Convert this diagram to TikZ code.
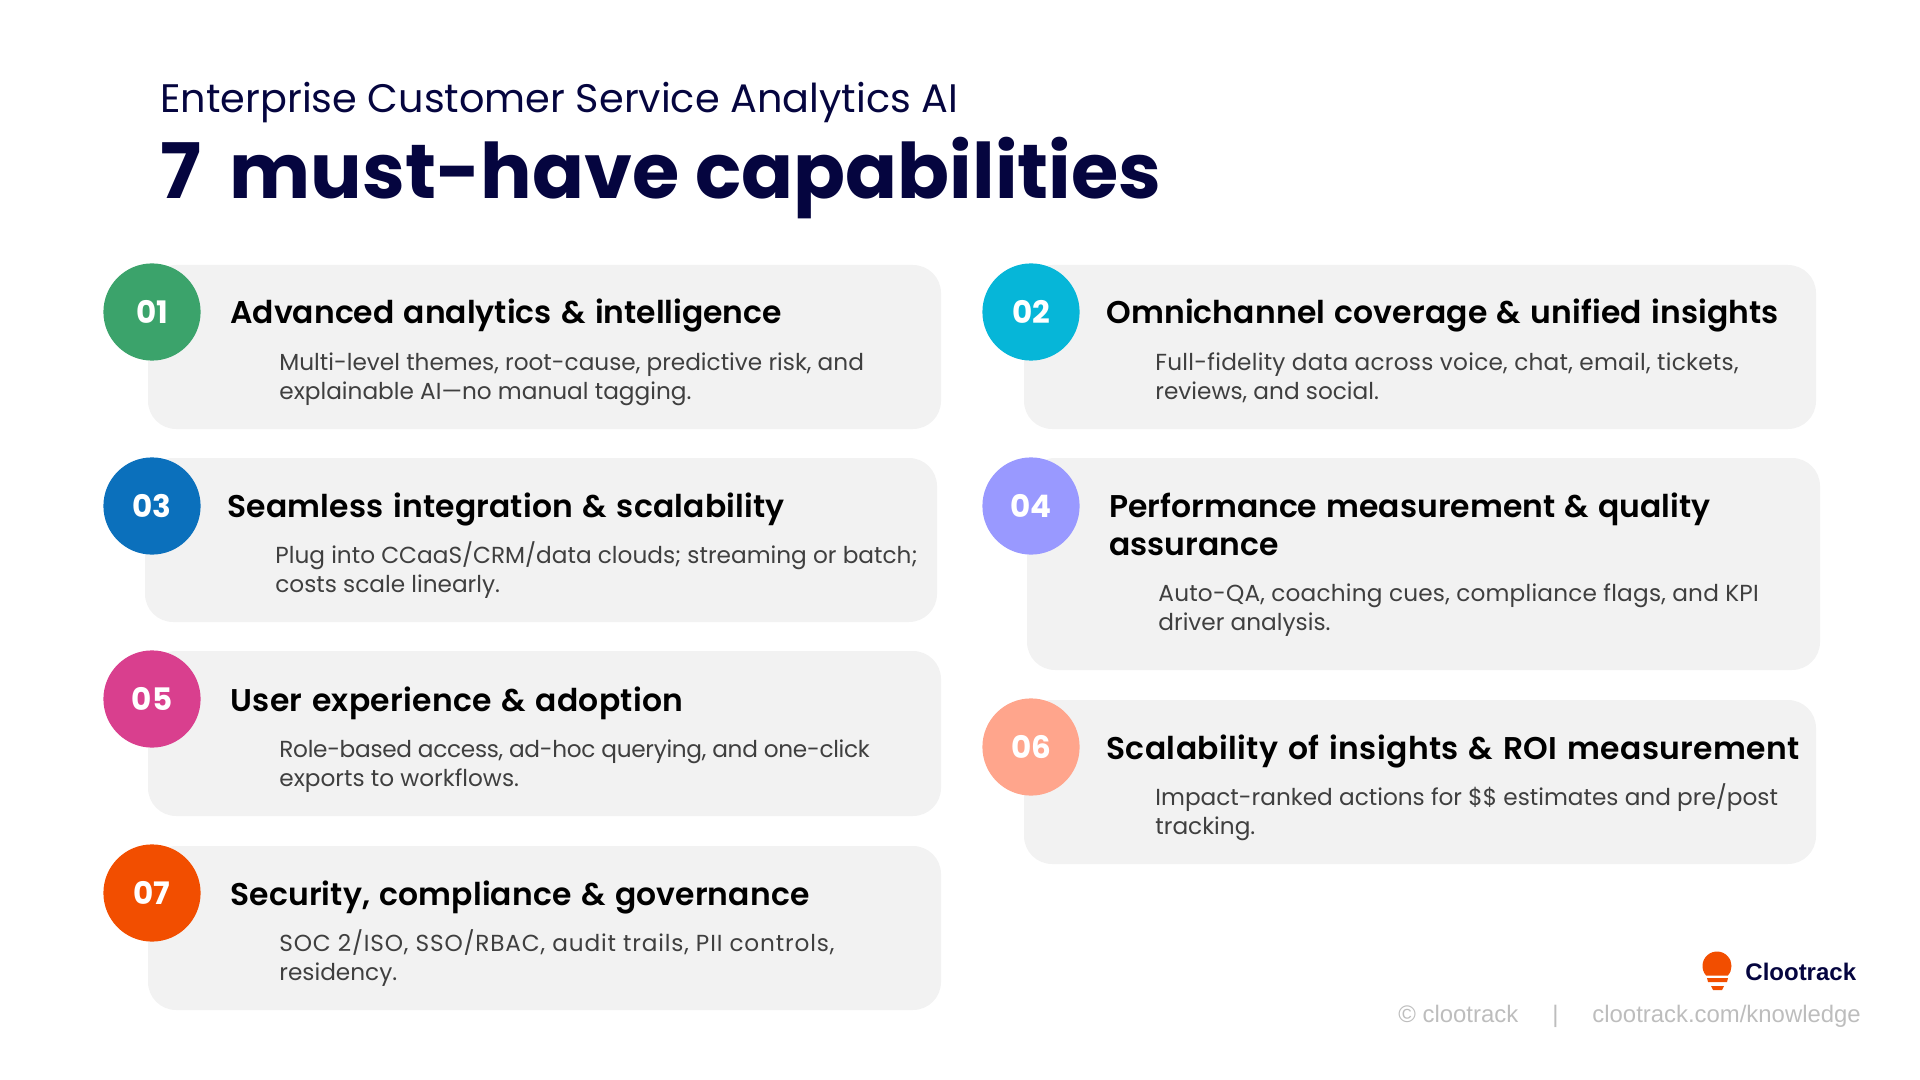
\documentclass[tikz,border=0pt]{standalone}
\usepackage{fontspec}
\setmainfont{Poppins}
\newfontfamily\headfont{Poppins SemiBold}[WordSpace=1.25]
\newfontfamily\footfont{Liberation Sans}
\newcommand{\track}[1]{\addfontfeature{LetterSpace=#1}}
\definecolor{navy}{HTML}{05053F}
\definecolor{cardgray}{HTML}{F2F2F2}
\definecolor{bodygray}{HTML}{3F3F3F}
\definecolor{footgray}{HTML}{BDBDBD}
\definecolor{logoorange}{HTML}{F24E00}
\definecolor{numgreen}{HTML}{3BA36B}
\definecolor{numcyan}{HTML}{06B6D8}
\definecolor{numblue}{HTML}{0B70BC}
\definecolor{numviolet}{HTML}{9999FF}
\definecolor{nummagenta}{HTML}{D93F8E}
\definecolor{numsalmon}{HTML}{FFA58C}
\tikzset{
 card/.style={fill=cardgray,rounded corners=14pt},
 badge/.style={circle,minimum size=48.6pt,inner sep=0pt,text=white,font=\fontsize{15.5}{15.5}\selectfont\bfseries},
 head/.style={anchor=base west,inner sep=0pt,align=left,font=\headfont\fontsize{15.7}{19}\selectfont},
 body/.style={anchor=base west,inner sep=0pt,align=left,text=bodygray,font=\fontsize{11.6}{14.5}\selectfont},
 foot/.style={anchor=base west,inner sep=0pt,text=footgray,font=\footfont\fontsize{11.95}{12}\selectfont},
}
\begin{document}
\begin{tikzpicture}[x=.5pt,y=-.5pt]
 \useasboundingbox (0,0) rectangle (1920,1080);
 \node[anchor=base west,inner sep=0pt,text=navy,font=\fontsize{19.9}{20}\selectfont] (subtitle) at (160,113) {Enterprise Customer Service Analytics AI};
 \node[anchor=base west,inner sep=0pt,text=navy,font=\fontsize{38.3}{39}\selectfont\bfseries] (title) at (160,199) {7\hspace{6pt} must-have capabilities};
 %
 \fill[card] (148,265) rectangle (941,429);
 \fill[card] (145,458) rectangle (937,622);
 \fill[card] (148,651) rectangle (941,816);
 \fill[card] (148,846) rectangle (941,1010);
 \fill[card] (1024,265) rectangle (1816,429);
 \fill[card] (1027,458) rectangle (1820,670);
 \fill[card] (1024,700) rectangle (1816,864);
 %
 \node[badge,fill=numgreen] (b1) at (152,312) {01};
 \node[badge,fill=numcyan] (b2) at (1031,312) {02};
 \node[badge,fill=numblue] (b3) at (152,506) {03};
 \node[badge,fill=numviolet] (b4) at (1031,506) {04};
 \node[badge,fill=nummagenta] (b5) at (152,699) {05};
 \node[badge,fill=numsalmon] (b6) at (1031,747) {06};
 \node[badge,fill=logoorange] (b7) at (152,893) {07};
 %
 \node[head] (h1) at (230,324) {Advanced analytics \& intelligence};
 \node[body] (t1) at (279,400) {Multi-level themes, root-cause, predictive risk, and\\explainable AI—no manual tagging.};
 \node[head] (h2) at (1106,324) {\track{.4}Omnichannel coverage \& unified insights};
 \node[body] (t2) at (1155,400) {\track{1.1}Full-fidelity data across voice, chat, email, tickets,\\reviews, and social.};
 \node[head] (h3) at (227,517) {\track{.6}Seamless integration \& scalability};
 \node[body] (t3) at (275,592) {Plug into CCaaS/CRM/data clouds; streaming or batch;\\costs scale linearly.};
 \node[head] (h4) at (1109,555) {Performance measurement \& quality\\assurance};
 \node[body] (t4) at (1158,630) {\track{.9}Auto-QA, coaching cues, compliance flags, and KPI\\driver analysis.};
 \node[head] (h5) at (230,711) {\track{1}User experience \& adoption};
 \node[body] (t5) at (279,786) {\track{-1.3}Role-based access, ad-hoc querying, and one-click\\exports to workflows.};
 \node[head] (h6) at (1106,759) {\track{1.3}Scalability of insights \& ROI measurement};
 \node[body] (t6) at (1155,834) {Impact-ranked actions for \$\$ estimates and pre/post\\tracking.};
 \node[head] (h7) at (230,905) {\track{.4}Security, compliance \& governance};
 \node[body] (t7) at (279,980) {\track{3.6}SOC 2/ISO, SSO/RBAC, audit trails, PII controls,\\residency.};
 %
 \fill[logoorange] (1706.2,975.7) arc[start angle=138,end angle=402,radius=14.5] -- cycle;
 \fill[logoorange] (1707,978) -- (1728,978) -- (1727,982) -- (1708,982) -- cycle;
 \fill[logoorange] (1711,986) -- (1724,986) -- (1722,990) -- (1713,990) -- cycle;
 \node[anchor=base west,inner sep=0pt,text=navy,font=\footfont\fontsize{12}{12}\selectfont\bfseries] (brand) at (1745,980) {Clootrack};
 \node[foot] (copy) at (1398,1022) {© clootrack};
 \node[foot] (bar) at (1552,1022) {|};
 \node[foot] (url) at (1592,1022) {clootrack.com/knowledge};
\end{tikzpicture}
\end{document}
